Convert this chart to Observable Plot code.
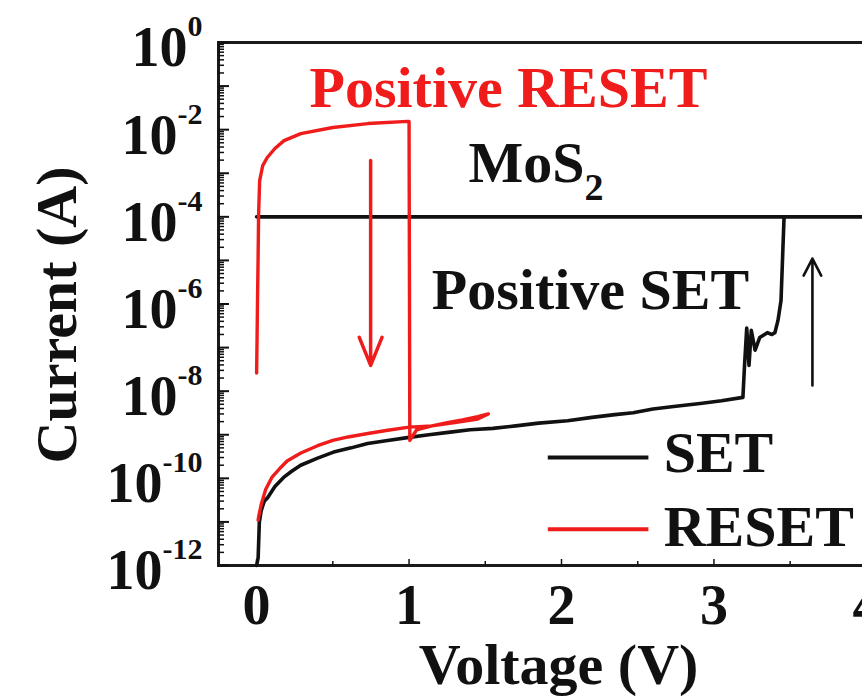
<!DOCTYPE html>
<html><head><meta charset="utf-8">
<script src="https://cdn.jsdelivr.net/npm/d3@7"></script>
<script src="https://cdn.jsdelivr.net/npm/@observablehq/plot@0.6"></script>
<style>
html,body{margin:0;padding:0;background:#fff;overflow:hidden;width:862px;height:698px}
#chart{width:910px;height:698px}
#chart svg{display:block;background:#fff;max-width:none !important;width:910px !important;height:698px !important}
#chart text{font-family:"Liberation Serif","Times New Roman",serif;font-weight:bold}
</style></head><body><div id="chart"></div>
<script>
// ---- data ----
const setVoltage = [0,0.010,0.018,0.03,0.05,0.072,0.12,0.177,0.23,0.289,0.4,0.505,0.62,0.728,0.86,1.0,1.13,1.27,1.4,1.55,1.7,1.85,2.04,2.2,2.35,2.47,2.6,2.75,2.91,3.05,3.19,3.2,3.215,3.23,3.245,3.27,3.30,3.35,3.38,3.40,3.42,3.44,3.46,4.0,0.0];
const setCurrent = [1.0e-12,1.5e-12,1.0e-11,1.8e-11,3.0e-11,3.6e-11,6.5e-11,1.05e-10,1.45e-10,2.0e-10,2.9e-10,4.0e-10,5.0e-10,6.3e-10,7.4e-10,8.7e-10,1.0e-9,1.15e-9,1.3e-9,1.4e-9,1.6e-9,1.85e-9,2.1e-9,2.5e-9,2.9e-9,3.2e-9,3.9e-9,4.5e-9,5.2e-9,6.0e-9,7.2e-9,3.5e-8,2.8e-7,3.9e-8,2.5e-7,8.7e-8,1.7e-7,2.2e-7,2.0e-7,2.2e-7,4.2e-7,1.2e-6,1.0e-4,1.0e-4,1.0e-4];
const resetVoltage = [0,0.003,0.006,0.01,0.013,0.02,0.04,0.07,0.12,0.18,0.29,0.5,0.73,0.99,1.0,1.005,1.05,1.15,1.25,1.35,1.45,1.52,1.45,1.3,1.15,1.0,0.85,0.73,0.6,0.5,0.4,0.29,0.2,0.16,0.1,0.06,0.03,0.015,0.01];
const resetCurrent = [2.6e-8,1.6e-7,1.3e-6,1.3e-5,1.1e-4,6.8e-4,1.5e-3,2.3e-3,3.7e-3,5.6e-3,8.1e-3,1.12e-2,1.38e-2,1.55e-2,1.55e-2,7.4e-10,1.3e-9,1.6e-9,1.9e-9,2.2e-9,2.6e-9,3.0e-9,2.3e-9,1.9e-9,1.6e-9,1.5e-9,1.25e-9,1.07e-9,8.9e-10,7.4e-10,5.6e-10,3.8e-10,2.5e-10,1.8e-10,1.05e-10,5.6e-11,2.5e-11,1.4e-11,1.1e-11];
const seriesNames = ["SET", "RESET"];
const seriesColors = ["#111111", "#f01c1c"];
const xTickValues = [0, 1, 2, 3, 4];
const xTickLabels = ["0", "1", "2", "3", "4"];
const xMinorTicks = [0.5, 1.5, 2.5, 3.5];
const yLabelValues = [1e0, 1e-2, 1e-4, 1e-6, 1e-8, 1e-10, 1e-12];
const yTickLabels = ["10^0", "10^-2", "10^-4", "10^-6", "10^-8", "10^-10", "10^-12"];
const yDecades = [1e0,1e-1,1e-2,1e-3,1e-4,1e-5,1e-6,1e-7,1e-8,1e-9,1e-10,1e-11,1e-12];

// ---- layout ----
const W = 910, H = 698, ML = 218, MR = 6, MT = 42, MB = 133;
const plotW = W - ML - MR, plotH = H - MT - MB;
const RED = seriesColors[1], BLACK = seriesColors[0];
const FONT = "Liberation Serif, Times New Roman, serif";

const setData = setVoltage.map((v, i) => ({v, c: setCurrent[i]}));
const resetData = resetVoltage.map((v, i) => ({v, c: resetCurrent[i]}));
const yMinor = [];
yDecades.slice(1).forEach(d => { for (let k = 2; k <= 9; k++) yMinor.push(d * k); });
const yLabelOf = new Map(yLabelValues.map((v, i) => [v, yTickLabels[i]]));
const xLabelOf = new Map(xTickValues.map((v, i) => [v, xTickLabels[i]]));

const centeredNotes = [
  {text: "Positive RESET", x: 1.652, y: 8.8e-2, color: RED},
  {text: "Positive SET", x: 2.19, y: 2.0e-6, color: BLACK}
];
const startNotes = [
  {text: "MoS_2", x: 1.39, y: 1.7e-3, color: BLACK}
];
const redArrow = [{x1: 0.748, y1: 1.95e-3, x2: 0.748, y2: 3.9e-8}];
const blackArrow = [{x1: 3.646, y1: 1.35e-8, x2: 3.646, y2: 1.1e-5}];
const legend = seriesNames.map((name, i) => ({
  name, color: seriesColors[i], x1: 1.91, x2: 2.57, xt: 2.67,
  y: [3.0e-10, 6.8e-12][i], yt: [3.7e-10, 7.5e-12][i]
}));

const chart = Plot.plot({
  width: W, height: H,
  marginLeft: ML, marginRight: MR, marginTop: MT, marginBottom: MB,
  style: {fontFamily: FONT, fontWeight: "bold", background: "#fff", color: "#111"},
  x: {domain: [-0.25, 4.25]},
  y: {type: "log", domain: [1e-12, 1]},
  marks: [
    Plot.frame({stroke: "#1a1a1a", strokeWidth: 3}),
    Plot.tickY(yDecades, {y: d => d, stroke: "#111", strokeWidth: 2, insetRight: plotW - 11}),
    Plot.tickY(yMinor, {y: d => d, stroke: "#111", strokeWidth: 1.5, insetRight: plotW - 6}),
    Plot.tickX(xTickValues, {x: d => d, stroke: "#111", strokeWidth: 1.5, insetTop: plotH - 6}),
    Plot.tickX(xMinorTicks, {x: d => d, stroke: "#111", strokeWidth: 1.5, insetTop: plotH - 4}),
    Plot.axisY(yLabelValues, {tickSize: 0, tickPadding: 16, dy: 6, fontSize: 56, fontWeight: "bold", fill: "#111", tickFormat: d => yLabelOf.get(d)}),
    Plot.axisX(xTickValues, {tickSize: 0, tickPadding: 19, fontSize: 56, fontWeight: "bold", fill: "#111", tickFormat: d => xLabelOf.get(d), label: null}),
    Plot.text(["Voltage (V)"], {frameAnchor: "bottom", dy: 100, dx: -3, fontSize: 58, fontWeight: "bold", fill: "#111", textAnchor: "middle", lineAnchor: "middle"}),
    Plot.text(["Current (A)"], {frameAnchor: "left", rotate: -90, dx: -161, dy: 11, fontSize: 58, fontWeight: "bold", fill: "#111", textAnchor: "middle", lineAnchor: "middle"}),
    Plot.line(setData, {x: "v", y: "c", stroke: BLACK, strokeWidth: 3.6, strokeLinejoin: "round"}),
    Plot.line(resetData, {x: "v", y: "c", stroke: RED, strokeWidth: 3.4, strokeLinejoin: "round"}),
    Plot.arrow(redArrow, {x1: "x1", y1: "y1", x2: "x2", y2: "y2", stroke: RED, strokeWidth: 3.5, headLength: 13, headAngle: 44}),
    Plot.arrow(blackArrow, {x1: "x1", y1: "y1", x2: "x2", y2: "y2", stroke: BLACK, strokeWidth: 2.6, headLength: 11, headAngle: 55}),
    Plot.text(centeredNotes, {x: "x", y: "y", text: "text", fill: d => d.color, textAnchor: "middle", fontSize: 58, fontWeight: "bold", lineAnchor: "middle"}),
    Plot.text(startNotes, {x: "x", y: "y", text: "text", fill: d => d.color, textAnchor: "start", fontSize: 58, fontWeight: "bold", lineAnchor: "middle"}),
    Plot.link(legend, {x1: "x1", x2: "x2", y1: "y", y2: "y", stroke: d => d.color, strokeWidth: 4}),
    Plot.text(legend, {x: "xt", y: "yt", text: "name", fill: "#111", textAnchor: "start", fontSize: 58, fontWeight: "bold", lineAnchor: "middle"})
  ]
});
document.getElementById("chart").appendChild(chart);

// superscripts / subscripts as real tspans
d3.select(chart).selectAll("text").each(function () {
  const t = this.textContent;
  let m = /^10\^(.+)$/.exec(t);
  if (m) {
    const sel = d3.select(this);
    sel.text("");
    sel.append("tspan").text("10");
    sel.append("tspan").attr("dy", -30).attr("font-size", 30).text(m[1]);
    return;
  }
  m = /^(.+)_(.+)$/.exec(t);
  if (m) {
    const sel = d3.select(this);
    sel.text("");
    sel.append("tspan").text(m[1]);
    sel.append("tspan").attr("dy", 18).attr("font-size", 38).text(m[2]);
  }
});
</script></body></html>
